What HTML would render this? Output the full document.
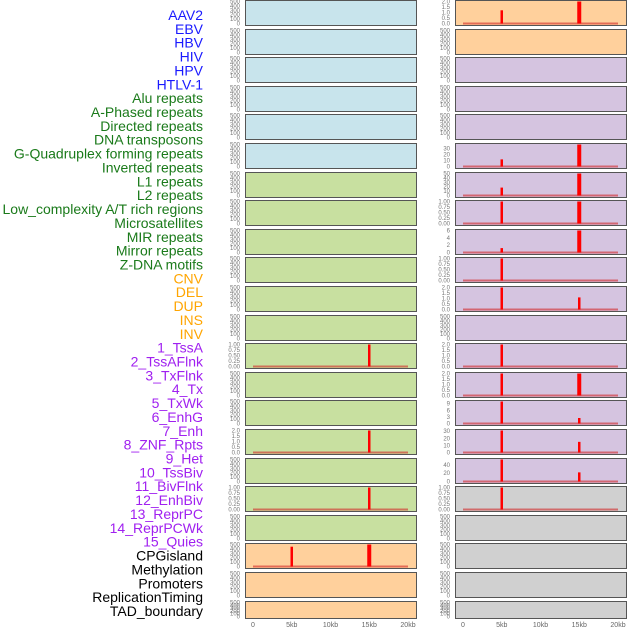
<!DOCTYPE html>
<html><head><meta charset="utf-8"><style>
body{margin:0;background:#fff;width:630px;height:630px;overflow:hidden}
svg{display:block}
</style></head><body>
<svg id="c" width="630" height="630" xmlns="http://www.w3.org/2000/svg"></svg>
<script>
const labels=["AAV2","EBV","HBV","HIV","HPV","HTLV-1","Alu repeats","A-Phased repeats","Directed repeats","DNA transposons","G-Quadruplex forming repeats","Inverted repeats","L1 repeats","L2 repeats","Low_complexity A/T rich regions","Microsatellites","MIR repeats","Mirror repeats","Z-DNA motifs","CNV","DEL","DUP","INS","INV","1_TssA","2_TssAFlnk","3_TxFlnk","4_Tx","5_TxWk","6_EnhG","7_Enh","8_ZNF_Rpts","9_Het","10_TssBiv","11_BivFlnk","12_EnhBiv","13_ReprPC","14_ReprPCWk","15_Quies","CPGisland","Methylation","Promoters","ReplicationTiming","TAD_boundary"];
const labelGroups=[0,0,0,0,0,0,1,1,1,1,1,1,1,1,1,1,1,1,1,2,2,2,2,2,3,3,3,3,3,3,3,3,3,3,3,3,3,3,3,4,4,4,4,4];
const groupColors=["#1a1aff","#1a7a1a","#ffa500","#a020f0","#000000"];
const leftFill=["b","b","b","b","b","b","g","g","g","g","g","g","g","g","g","g","g","g","g","o","o","o"];
const rightFill=["o","o","p","p","p","p","p","p","p","p","p","p","p","p","p","p","p","g2","g2","g2","g2","g2"];
const fills={b:"#c8e4ec",g:"#c8e0a0",o:"#ffd09c",p:"#d5c4e0",g2:"#d0d0d0"};
// per-panel y max (null = empty default 0..500)
const leftMax=[null,null,null,null,null,null,null,null,null,null,null,null,1,null,null,2,null,1,null,500,null,null];
const rightMax=[2,null,null,null,null,37,50,1,6,1,2,null,2,2,10,31,53,1,null,null,null,null];
const leftStep=[0,0,0,0,0,0,0,0,0,0,0,0,0.25,0,0,0.5,0,0.25,0,100,0,0];
const rightStep=[0.5,0,0,0,0,10,10,0.25,2,0.25,0.5,0,0.5,0.5,3,10,20,0.25,0,0,0,0];
// bars: column (0 left,1 right), row, position kb, value
const barCol=[0,0,0,0,0, 1,1,1,1,1,1,1,1,1,1,1,1,1,1,1,1,1,1,1,1,1,1,1,1];
const barRow=[12,15,17,19,19, 0,0,5,5,6,6,7,7,8,8,9,10,10,12,13,13,14,14,15,15,16,16,17];
const barKb=[15,15,15,5,15, 5,15,5,15,5,15,5,15,5,15,5,5,15,5,5,15,5,15,5,15,5,15,5];
const barVal=[1,2,1,450,500, 1.2,2,12,37,18,50,1,1,1.2,6,1,2,1.1,2,2,2,10,2.5,31,15,53,22,1];
const xTicks=["0","5kb","10kb","15kb","20kb"];
const xTickKb=[0,5,10,15,20];

const svg=document.getElementById('c');
const NS="http://www.w3.org/2000/svg";
function mk(t,a,p){const e=document.createElementNS(NS,t);for(const k in a)e.setAttribute(k,a[k]);(p||svg).appendChild(e);return e;}
const colX=[245,455], colW=171, x0=[253,463], kbW=155/20;
function xs(c,kb){return x0[c]+kb*kbW;}
function rowTop(i){return Math.round(i*28.6);}
function rowH(i){return i===21?17:25;}
function ys(i,v,max){const h=rowH(i);return rowTop(i)+h-1.5-(v/max)*(h-3);}

labels.forEach((l,i)=>{
  const t=mk('text',{x:203,y:15+i*13.86+5,'text-anchor':'end','font-family':'Liberation Sans, sans-serif','font-size':'14',fill:groupColors[labelGroups[i]]});
  t.textContent=l;
  
  
});

for(let c=0;c<2;c++){
  const fillArr=c?rightFill:leftFill, maxArr=c?rightMax:leftMax, stepArr=c?rightStep:leftStep;
  for(let i=0;i<22;i++){
    const top=rowTop(i),h=rowH(i);
    const r=mk('rect',{x:colX[c]+0.5,y:top+0.5,width:colW,height:h,fill:fills[fillArr[i]],stroke:'#555','stroke-width':1});
    
    
    const max=maxArr[i]||500, step=stepArr[i]||100;
    const dec=step<0.5?2:(step<1?1:0);
    for(let v=0;v<=max+1e-9;v+=step){
      const t=mk('text',{x:colX[c]-5,y:ys(i,v,max)+2,'text-anchor':'end','font-family':'Liberation Sans, sans-serif','font-size':'6',fill:'#777'});
      t.textContent=v.toFixed(dec);
      
      
    }
    if(maxArr[i]!==null){
      const b=mk('line',{x1:xs(c,0),x2:xs(c,20),y1:ys(i,0,max),y2:ys(i,0,max),stroke:'rgba(210,40,40,0.6)','stroke-width':2});
      
      
    }
  }
}
barVal.forEach((v,k)=>{
  const c=barCol[k],i=barRow[k],max=(c?rightMax:leftMax)[i]||500;
  const y=ys(i,v,max),y0=ys(i,0,max);
  const w=barKb[k]===15&&v/max>0.9&&(c===1||i===19)?4:2.5;
  const r=mk('rect',{x:xs(c,barKb[k])-w/2,y:y,width:w,height:y0-y,fill:'#ff0000'});
  
  
});
for(let c=0;c<2;c++){
  xTicks.forEach((l,j)=>{
    const t=mk('text',{x:xs(c,xTickKb[j]),y:627,'text-anchor':'middle','font-family':'Liberation Sans, sans-serif','font-size':'7',fill:'#666'});
    t.textContent=l;
    
    
  });
}
</script>
</body></html>
